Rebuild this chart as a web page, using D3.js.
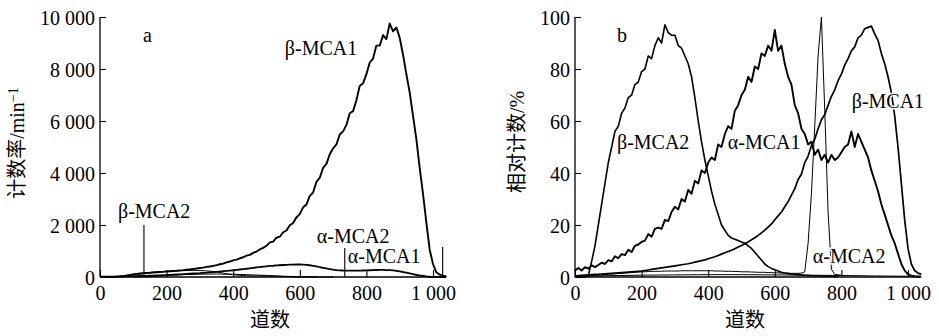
<!DOCTYPE html>
<html>
<head>
<meta charset="utf-8">
<script src="https://cdn.jsdelivr.net/npm/d3@7"></script>
<style>
  body { margin: 0; background: #fff; }
  svg text { font-family: "Liberation Serif", "Times New Roman", serif; fill: #000; }
  .cjk { font-family: "Noto Sans CJK SC", sans-serif; }
</style>
</head>
<body>
<svg id="chart" width="939" height="336"></svg>
<script>
// channel numbers, every 10 channels
const channels = d3.range(0, 1050, 10);

// panel a: count rate / min^-1
const leftBetaMca1 = [
  0, 0, 0, 0, 0, 5, 15, 30, 50, 70,
  90, 110, 125, 135, 155, 160, 175, 185, 195, 200,
  210, 220, 230, 240, 255, 265, 280, 295, 310, 325,
  345, 360, 390, 405, 430, 455, 490, 515, 560, 595,
  640, 670, 720, 760, 820, 850, 930, 980, 1060, 1120,
  1200, 1330, 1360, 1510, 1550, 1720, 1790, 1990, 2080, 2300,
  2420, 2680, 2790, 3120, 3250, 3660, 3820, 4200, 4350, 4720,
  4950, 5100, 5480, 5600, 5850, 6300, 6380, 6800, 7350, 7450,
  7800, 8250, 8400, 8900, 8900, 9300, 9150, 9750, 9450, 9600,
  9200, 8550, 7800, 7100, 6200, 5300, 4200, 3200, 2100, 1050,
  500, 180, 90, 50, 20
];
const leftAlphaMca1 = [
  10, 12, 14, 16, 18, 20, 22, 25, 27, 30,
  32, 36, 38, 42, 45, 50, 55, 60, 64, 70,
  75, 82, 88, 96, 102, 110, 118, 126, 134, 142,
  150, 162, 168, 180, 190, 200, 210, 222, 234, 246,
  260, 275, 288, 302, 318, 335, 352, 368, 382, 396,
  410, 424, 432, 444, 452, 462, 468, 476, 478, 482,
  480, 476, 466, 452, 432, 410, 382, 355, 328, 305,
  282, 268, 258, 250, 246, 244, 242, 244, 246, 250,
  255, 260, 265, 270, 272, 272, 268, 262, 252, 238,
  215, 192, 165, 140, 112, 86, 60, 40, 20, 10,
  4, 1, 0, 0, 0
];
const leftBetaMca2 = [
  0, 0, 0, 0, 0, 15, 30, 50, 70, 95,
  120, 135, 150, 160, 170, 180, 188, 196, 203, 210,
  217, 223, 228, 233, 238, 243, 247, 250, 252, 252,
  248, 243, 235, 225, 212, 195, 175, 150, 125, 105,
  90, 75, 65, 57, 50, 45, 42, 40, 39, 38,
  36, 34, 31, 27, 23, 19, 15, 12, 9, 7,
  5, 4, 3, 2.5, 2, 1.5, 1, 1, 1, 0.5, 0
];
const leftLowChannels = [100, 150, 200, 250, 300, 350, 400, 450, 500, 550, 600, 650];
const leftLow = [0, 20, 60, 90, 110, 115, 105, 85, 60, 30, 10, 0];

// panel b: relative counts / %
const rightBetaMca2 = [
  0, 0, 0, 0, 0.5, 6, 12, 20, 28, 36,
  44, 50, 56, 58, 63, 65, 69, 70, 74, 75,
  79, 80, 85, 84, 89, 92, 90, 97, 94, 93,
  93, 89, 88, 85, 82, 77, 69, 60, 52, 45,
  39, 33, 28, 24, 20, 18, 16, 15, 14.5, 14,
  13.5, 13, 12, 11, 9.5, 8, 6.5, 5, 4, 3.3,
  2.8, 2.3, 1.8, 1.5, 1.3, 1.1, 1, 0.9, 0.8, 0.7,
  0.6, 0.5, 0.5, 0.4, 0.4, 0.3, 0.3, 0.3, 0.2, 0.2
];
const rightAlphaMca1 = [
  2.5, 3.5, 2.5, 3.8, 3.2, 4.5, 3.8, 4.6, 5.5, 5,
  6.5, 6, 8, 7.2, 8.8, 8.4, 10.5, 9.6, 12, 12.5,
  13.5, 14, 16.5, 15.5, 18.5, 19, 18.5, 22, 21.5, 25,
  27, 26, 30, 29, 33.5, 32, 37, 36, 41, 40,
  44, 46, 45, 51, 50, 55, 58, 57, 64, 66,
  70, 72, 77, 75, 81, 80, 86, 85, 89, 87,
  95, 87, 89, 82, 77, 74, 66, 63, 57, 55,
  51, 52, 47, 49, 45, 47, 44, 47, 45, 46,
  48, 50, 51, 56, 50, 55, 52, 49, 46, 41,
  37, 33, 28, 24, 20, 16, 13, 9, 5, 2.5,
  1, 0.5, 0.3, 0.2, 0.1
];
const rightBetaMca1 = [
  0.3, 0.5, 0.6, 0.7, 0.8, 0.9, 1, 1, 1.1, 1.2,
  1.3, 1.4, 1.5, 1.6, 1.7, 1.8, 1.9, 2, 2.1, 2.2,
  2.3, 2.5, 2.7, 2.9, 3.1, 3.3, 3.5, 3.7, 3.9, 4.1,
  4.3, 4.5, 4.7, 4.9, 5.1, 5.4, 5.7, 6, 6.3, 6.6,
  7, 7.4, 7.8, 8.3, 8.8, 9.3, 9.8, 10.3, 10.9, 11.5,
  12.1, 12.8, 13.5, 14.3, 15.1, 16, 17, 18, 19.2, 20.4,
  22, 23.5, 25, 27, 29, 31.5, 34, 37.5, 39.5, 44,
  46.5, 50.5, 53, 57, 60.5, 62.5, 66, 69.5, 72, 75.5,
  78, 81.5, 84, 87, 88.5, 92, 93, 95.5, 96, 96.5,
  93.5, 91, 86, 82, 77, 71, 62, 50, 36, 22,
  11, 5, 2.5, 1.5, 1
];
const rightAlphaMca2 = [
  0, 0.1, 0.2, 0.3, 0.4, 0.5, 0.6, 0.7, 0.8, 0.9,
  1, 1.1, 1.2, 1.3, 1.4, 1.5, 1.6, 1.7, 1.8, 1.9,
  2, 2, 2.1, 2.1, 2.2, 2.2, 2.2, 2.3, 2.3, 2.3,
  2.3, 2.3, 2.4, 2.4, 2.4, 2.4, 2.4, 2.4, 2.4, 2.4,
  2.4, 2.4, 2.3, 2.3, 2.3, 2.2, 2.2, 2.2, 2.1, 2.1,
  2, 2, 2, 1.9, 1.9, 1.8, 1.8, 1.8, 1.7, 1.7,
  1.6, 1.6, 1.5, 1.5, 1.5, 1.4, 1.4, 1.4, 1.5, 2,
  13, 32, 58, 85, 100, 64, 25, 3, 1, 0.8,
  0.7
];
const rightLowChannels = [0, 100, 200, 300, 400, 500, 600, 700, 800, 900, 1000];
const rightLow = [0.3, 0.5, 0.7, 0.8, 0.9, 0.9, 0.8, 0.7, 0.6, 0.4, 0.3];

const xTicks = [0, 200, 400, 600, 800, 1000];
const leftYTicks = [0, 2000, 4000, 6000, 8000, 10000];
const rightYTicks = [0, 20, 40, 60, 80, 100];

const svg = d3.select('#chart');
const plotTop = 17, plotBottom = 277;

const fmt = v => v >= 1000 ? d3.format(',')(v).replace(/,/g, ' ') : String(v);
const pairs = (xs, ys) => ys.map((v, i) => [xs[i], v]);

function drawPanel(p) {
  const x = d3.scaleLinear().domain([0, 1000]).range([p.x0, p.x0 + 333]);
  const y = d3.scaleLinear().domain([0, p.yMax]).range([plotBottom, plotTop]);
  const g = svg.append('g');

  const line = d3.line().x(d => x(d[0])).y(d => y(d[1]));
  p.series.forEach(s => {
    g.append('path')
      .attr('d', line(s.data))
      .attr('fill', 'none')
      .attr('stroke', '#000')
      .attr('stroke-width', s.w)
      .attr('stroke-linejoin', 'round');
  });

  // pointer lines
  (p.pointers || []).forEach(pt => {
    g.append('line')
      .attr('x1', x(pt.ch)).attr('x2', x(pt.ch))
      .attr('y1', y(pt.from)).attr('y2', y(pt.to))
      .attr('stroke', '#000').attr('stroke-width', 1.1);
  });

  // axes
  const xAxis = g.append('g')
    .attr('transform', `translate(0,${plotBottom})`)
    .call(d3.axisBottom(x).tickValues(xTicks).tickSize(-7).tickFormat(fmt));
  xAxis.select('.domain').remove();
  xAxis.selectAll('line').attr('stroke-width', 1.1);
  xAxis.selectAll('text').attr('y', 23).attr('dy', 0)
    .style('font-size', '20px').style('font-family', '"Liberation Serif", serif');

  const yAxis = g.append('g')
    .attr('transform', `translate(${p.x0},0)`)
    .call(d3.axisLeft(y).tickValues(p.yTicks).tickSize(-6).tickPadding(5).tickFormat(fmt));
  yAxis.select('.domain').remove();
  yAxis.selectAll('line').attr('stroke-width', 1.1);
  yAxis.selectAll('text').attr('dy', '0.35em')
    .style('font-size', '20px').style('font-family', '"Liberation Serif", serif');

  g.append('line')
    .attr('x1', p.x0).attr('x2', p.x0)
    .attr('y1', plotTop).attr('y2', plotBottom)
    .attr('stroke', '#000').attr('stroke-width', 1.3);
  g.append('line')
    .attr('x1', p.x0).attr('x2', x(p.axisEnd))
    .attr('y1', plotBottom).attr('y2', plotBottom)
    .attr('stroke', '#000').attr('stroke-width', 1.3);

  // series labels
  p.labels.forEach(l => {
    g.append('text')
      .attr('x', x(l.ch)).attr('y', y(l.v))
      .attr('font-size', 20)
      .attr('stroke', '#fff').attr('stroke-width', 3)
      .attr('paint-order', 'stroke')
      .text(l.text);
  });

  // x title
  g.append('text')
    .attr('class', 'cjk')
    .attr('x', p.x0 + 170).attr('y', 327)
    .attr('text-anchor', 'middle')
    .attr('font-size', 20)
    .text('道数');

  // y title
  const yt = g.append('text')
    .attr('transform', `translate(${p.titleX},${p.titleY}) rotate(-90)`)
    .attr('text-anchor', 'middle')
    .attr('font-size', 20);
  yt.append('tspan').attr('class', 'cjk').text(p.yTitle[0]);
  yt.append('tspan').text(p.yTitle[1]);
  if (p.yTitle[2]) {
    yt.append('tspan').attr('dy', '-0.45em').attr('font-size', 14).text(p.yTitle[2]);
  }
}

drawPanel({
  x0: 100, yMax: 10000, yTicks: leftYTicks, axisEnd: 1030,
  titleX: 24, titleY: 143, yTitle: ['计数率', '/min', '−1'],
  series: [
    { data: pairs(leftLowChannels, leftLow), w: 1 },
    { data: pairs(channels, leftBetaMca2), w: 1 },
    { data: pairs(channels, leftAlphaMca1), w: 1.8 },
    { data: pairs(channels, leftBetaMca1), w: 1.9 }
  ],
  pointers: [
    { ch: 132, from: 2000, to: 150 },
    { ch: 735, from: 1120, to: 0 },
    { ch: 1029, from: 1150, to: 0 }
  ],
  labels: [
    { text: 'a', ch: 129, v: 9040 },
    { text: 'β-MCA1', ch: 555, v: 8540 },
    { text: 'β-MCA2', ch: 54, v: 2270 },
    { text: 'α-MCA2', ch: 651, v: 1310 },
    { text: 'α-MCA1', ch: 744, v: 540 }
  ]
});

drawPanel({
  x0: 575, yMax: 100, yTicks: rightYTicks, axisEnd: 1036,
  titleX: 524, titleY: 142, yTitle: ['相对计数', '/%'],
  series: [
    { data: pairs(rightLowChannels, rightLow), w: 1 },
    { data: pairs(channels, rightAlphaMca2), w: 1 },
    { data: pairs(channels, rightBetaMca2), w: 1.6 },
    { data: pairs(channels, rightAlphaMca1), w: 1.9 },
    { data: pairs(channels, rightBetaMca1), w: 1.7 }
  ],
  labels: [
    { text: 'b', ch: 126, v: 90.4 },
    { text: 'β-MCA2', ch: 126, v: 49.2 },
    { text: 'α-MCA1', ch: 459, v: 49.2 },
    { text: 'β-MCA1', ch: 831, v: 65 },
    { text: 'α-MCA2', ch: 714, v: 5.4 }
  ]
});
</script>
</body>
</html>
